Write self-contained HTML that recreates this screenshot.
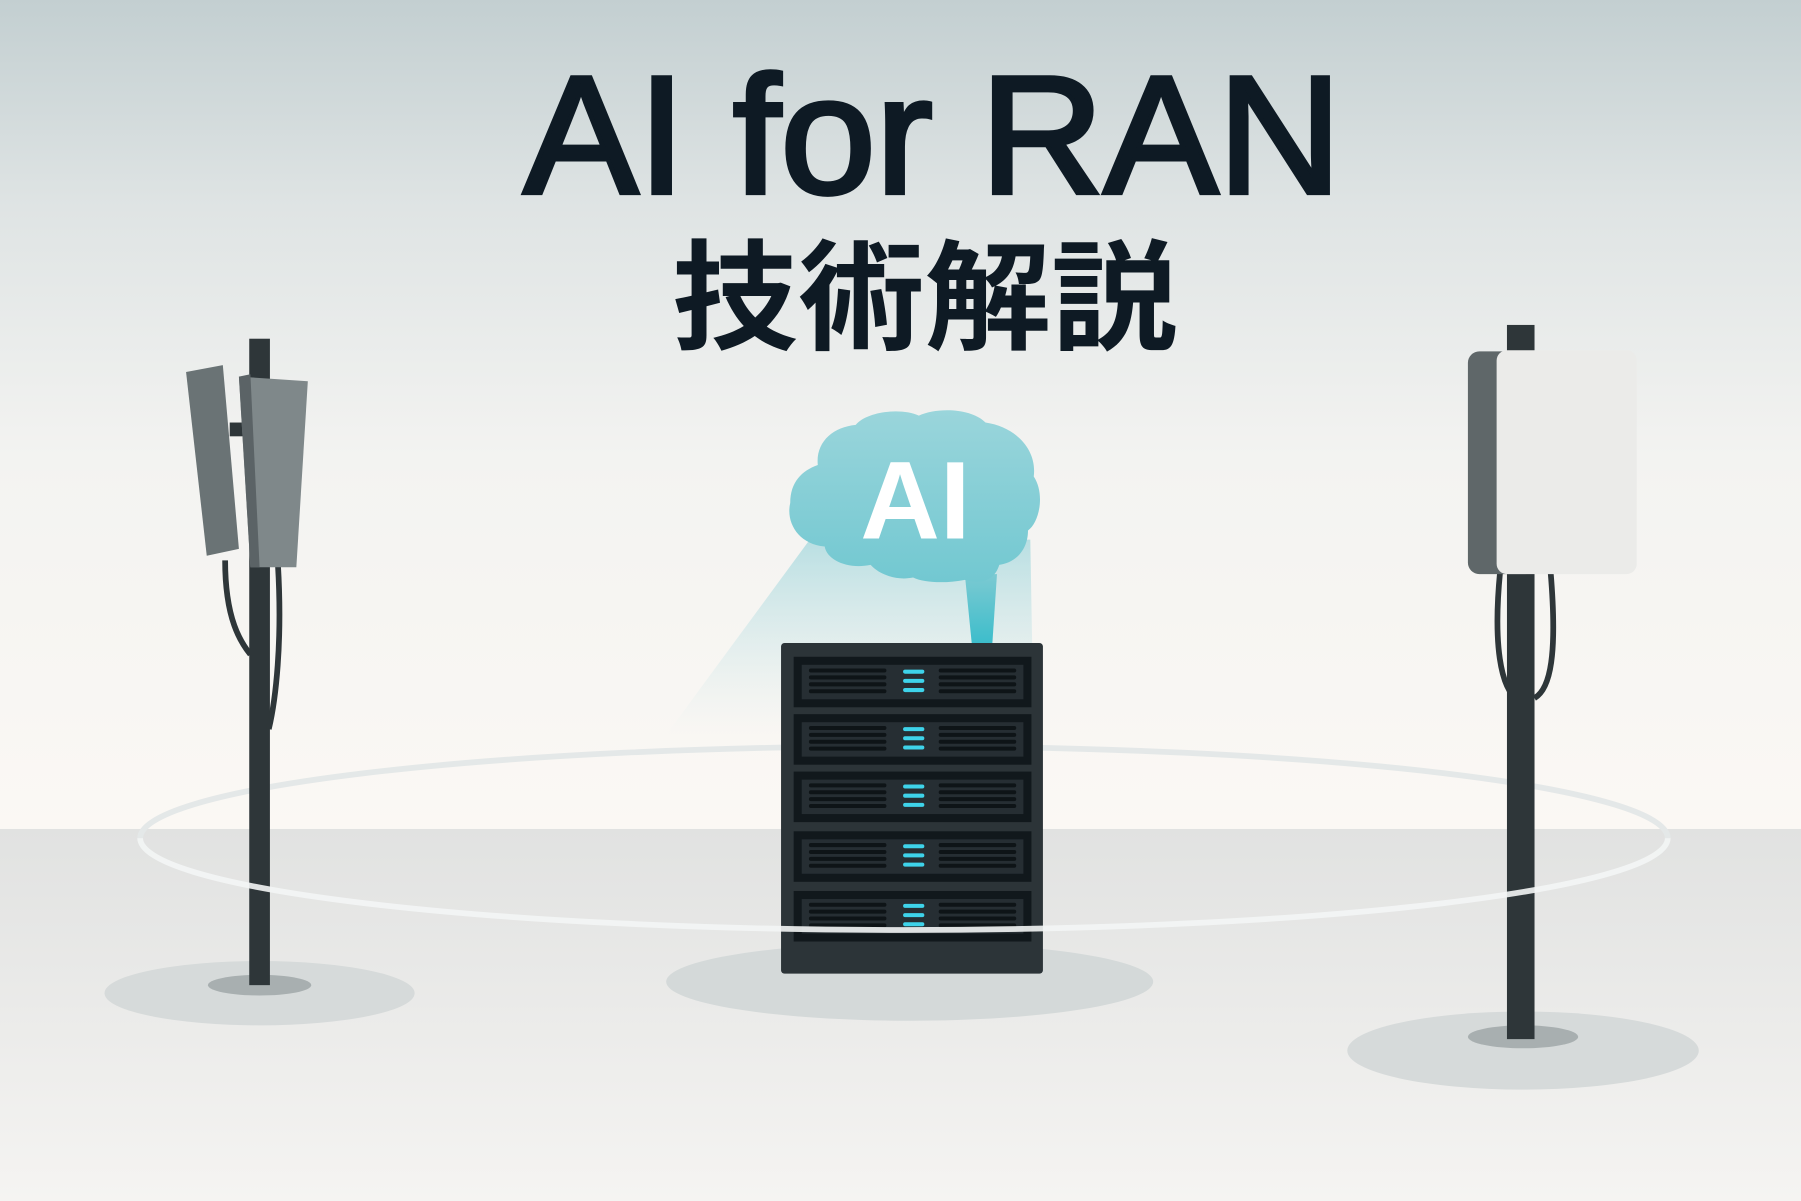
<!DOCTYPE html>
<html><head><meta charset="utf-8"><style>
html,body{margin:0;padding:0;width:1801px;height:1201px;overflow:hidden;background:#f4f3f1}
svg{display:block}
</style></head><body>
<svg width="1801" height="1201" viewBox="0 0 1568 1046" preserveAspectRatio="none" xmlns="http://www.w3.org/2000/svg">
<defs>
<linearGradient id="sky" x1="0" y1="0" x2="0" y2="1">
<stop offset="0" stop-color="#c3cfd1"/><stop offset="0.25" stop-color="#dfe4e4"/><stop offset="0.55" stop-color="#f3f3f1"/><stop offset="1" stop-color="#fbf8f4"/>
</linearGradient>
<linearGradient id="floor" x1="0" y1="0" x2="0" y2="1">
<stop offset="0" stop-color="#e1e2e1"/><stop offset="1" stop-color="#f5f4f2"/>
</linearGradient>
<linearGradient id="beam" x1="0" y1="0" x2="0" y2="1">
<stop offset="0" stop-color="#9fd6dc" stop-opacity="0.7"/><stop offset="1" stop-color="#cfe6e8" stop-opacity="0"/>
</linearGradient>
<linearGradient id="cloud" x1="0" y1="0" x2="0" y2="1">
<stop offset="0" stop-color="#9ad5db"/><stop offset="1" stop-color="#72c8d1"/>
</linearGradient>
<linearGradient id="stem" x1="0" y1="0" x2="0" y2="1">
<stop offset="0" stop-color="#7ccad2"/><stop offset="1" stop-color="#3dbdcb"/>
</linearGradient>
<g id="unit">
<rect x="691" y="0" width="207" height="44" fill="#11181c"/>
<rect x="698" y="7" width="193" height="30" fill="#262e33"/>
<g stroke="#0e1417" stroke-width="3.5" stroke-linecap="round">
<line x1="706" y1="12" x2="770" y2="12"/><line x1="706" y1="18" x2="770" y2="18"/><line x1="706" y1="24" x2="770" y2="24"/><line x1="706" y1="30" x2="770" y2="30"/>
<line x1="819" y1="12" x2="883" y2="12"/><line x1="819" y1="18" x2="883" y2="18"/><line x1="819" y1="24" x2="883" y2="24"/><line x1="819" y1="30" x2="883" y2="30"/>
</g>
<g stroke="#3ed3ea" stroke-width="3.5" stroke-linecap="round">
<line x1="788" y1="13" x2="803" y2="13"/><line x1="788" y1="21" x2="803" y2="21"/><line x1="788" y1="29" x2="803" y2="29"/>
</g>
</g>
</defs>
<rect width="1568" height="722" fill="url(#sky)"/>
<rect y="722" width="1568" height="324" fill="url(#floor)"/>

<text x="812" y="168" text-anchor="middle" font-family="Liberation Sans, sans-serif" font-size="146" fill="#0e1a24" stroke="#0e1a24" stroke-width="4" textLength="712" lengthAdjust="spacingAndGlyphs">AI for RAN</text>
<text x="805" y="296" text-anchor="middle" font-family="Liberation Sans, 'Noto Sans CJK JP', sans-serif" font-weight="bold" font-size="104" fill="#0e1a24" textLength="440" lengthAdjust="spacingAndGlyphs">技術解説</text>

<ellipse cx="226" cy="865" rx="135" ry="28" fill="#d6dada"/>
<ellipse cx="792" cy="855" rx="212" ry="34" fill="#d4d9d9"/>
<ellipse cx="1326" cy="915" rx="153" ry="34" fill="#d6dada"/>

<path d="M122,730 A665,80 0 0 1 1452,730" fill="none" stroke="#e4e8e8" stroke-width="5"/>

<polygon points="705,470 580,640 900,640 897,470" fill="url(#beam)"/>

<ellipse cx="226" cy="858" rx="45" ry="9" fill="#a8afb0"/>
<rect x="217" y="295" width="18" height="563" fill="#2e3639"/>
<rect x="200" y="368" width="20" height="12" fill="#2e3639"/>
<path d="M196,488 C196,540 210,560 218,570" stroke="#2e3639" stroke-width="5" fill="none"/>
<path d="M242,492 C246,560 240,610 234,635" stroke="#2e3639" stroke-width="5" fill="none"/>
<polygon points="162,324 194,318 208,478 180,484" fill="#6a7375"/>
<polygon points="208,328 268,332 258,494 218,494" fill="#7f888a"/>
<polygon points="208,328 218,326 226,494 218,494" fill="#5b6366"/>

<ellipse cx="1326" cy="903" rx="48" ry="10" fill="#a8afb0"/>
<rect x="1312" y="283" width="24" height="622" fill="#2e3639"/>
<path d="M1306,498 C1300,560 1306,600 1322,610" stroke="#2e3639" stroke-width="5" fill="none"/>
<path d="M1350,498 C1356,570 1350,600 1336,608" stroke="#2e3639" stroke-width="5" fill="none"/>
<rect x="1278" y="306" width="60" height="194" rx="10" fill="#5f6769"/>
<rect x="1303" y="305" width="122" height="195" rx="9" fill="#ebebe9"/>

<path d="M840,500 L868,500 L864,560 L846,560 Z" fill="url(#stem)"/>
<path d="M712,405 C710,385 725,372 745,370 C755,358 785,355 800,362 C815,355 845,355 858,368 C885,372 903,392 900,415 C910,430 905,455 895,462 C895,478 885,490 870,492 C866,505 855,510 840,505 C825,508 805,508 795,503 C780,506 765,500 758,492 C738,496 720,488 718,476 C695,474 684,455 688,438 C688,420 698,410 712,405 Z" fill="url(#cloud)"/>
<text x="797" y="469" text-anchor="middle" font-family="Liberation Sans, sans-serif" font-weight="bold" font-size="96" fill="#ffffff">AI</text>

<rect x="680" y="560" width="228" height="288" rx="3" fill="#2c3438"/>
<use href="#unit" y="572"/>
<use href="#unit" y="622"/>
<use href="#unit" y="672"/>
<use href="#unit" y="724"/>
<use href="#unit" y="776"/>

<path d="M122,730 A665,80 0 0 0 1452,730" fill="none" stroke="#f3f5f5" stroke-width="5" opacity="0.9"/>
</svg>
</body></html>
